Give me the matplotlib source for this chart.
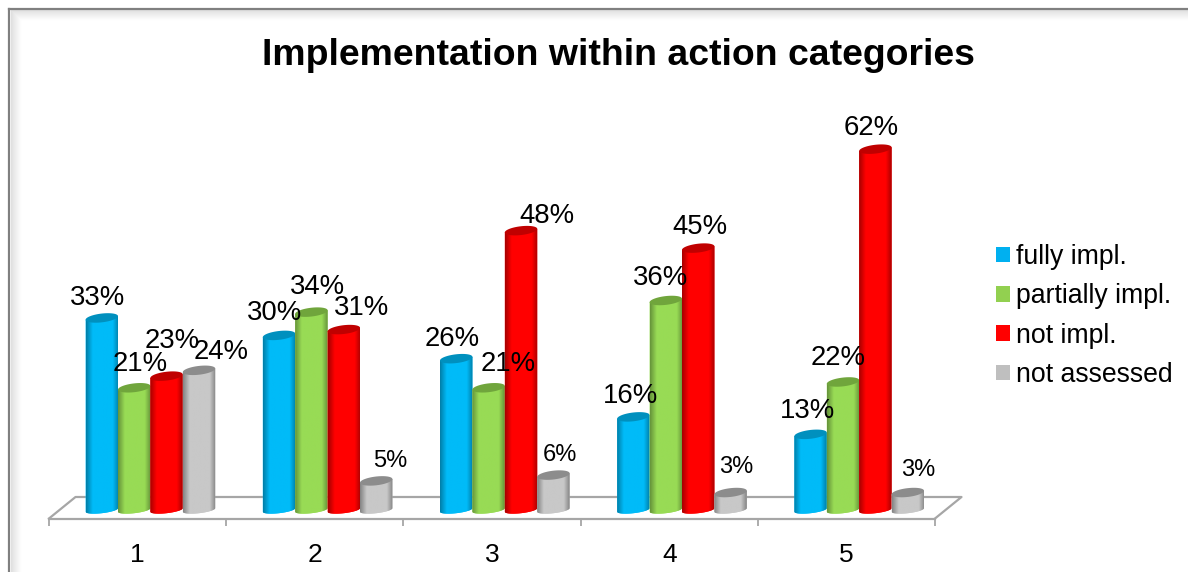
from __future__ import annotations

import matplotlib

matplotlib.use("Agg")
import matplotlib.pyplot as plt
import numpy as np
from matplotlib.colors import LinearSegmentedColormap
from matplotlib.lines import Line2D
from matplotlib.patches import Patch, Polygon

plt.rcParams["font.family"] = ["Liberation Sans", "DejaVu Sans"]

categories = ["1", "2", "3", "4", "5"]
series_names = ["fully impl.", "partially impl.", "not impl.", "not assessed"]
fully_impl = [33, 30, 26, 16, 13]
partially_impl = [21, 34, 21, 36, 22]
not_impl = [23, 31, 48, 45, 62]
not_assessed = [24, 5, 6, 3, 3]

legend_colors = ["#00B0F0", "#92D050", "#FF0000", "#BFBFBF"]
edge_colors = ["#007FA8", "#66943A", "#A80000", "#858585"]
mid_colors = ["#00BBF8", "#98DB55", "#FF0000", "#C8C8C8"]
top_colors = ["#0090BE", "#70A53C", "#C00000", "#8C8C8C"]

# label offsets from the bar top in pixels, one row per series
label_dx = [[-4, -4, -4, -3, -3], [6, 6, 20, -5, -5], [6, 18, 26, 2, -4], [22, 14, 7, 6, 10]]
label_dy = [[20, 22, 20, 21, 23], [24, 25, 24, 22, 24], [35, 22, 15, 21, 21], [18, 20, 20, 26, 23]]

W, H = 1188, 572
PX_X = 177.2  # pixels per category
PX_Y = 5.82  # pixels per percent
FLOOR_COLOR = "#A6A6A6"


def cylinder(ax, x, value, width, j, zorder):
    half_top = 4.4 / PX_Y
    half_base = 3.2 / PX_Y
    tilt = 1.8 / PX_Y
    t = np.linspace(0, 2 * np.pi, 80)
    ex = x + width / 2 * np.cos(t)
    ey = half_top * np.sin(t) + tilt * np.cos(t)

    # body outline: lower half of the base ellipse, then up to the top
    low = np.linspace(np.pi, 2 * np.pi, 40)
    bx = x + width / 2 * np.cos(low)
    by = half_base * np.sin(low) + tilt * np.cos(low)
    body = np.column_stack(
        [np.r_[bx, x + width / 2, x - width / 2], np.r_[by, value + tilt, value - tilt]]
    )
    patch = Polygon(body, closed=True, fc=mid_colors[j], ec="none", zorder=zorder, clip_on=False)
    ax.add_patch(patch)

    cmap = LinearSegmentedColormap.from_list(
        "cyl",
        [(0, edge_colors[j]), (0.2, mid_colors[j]), (0.82, mid_colors[j]), (1, edge_colors[j])],
    )
    img = ax.imshow(
        np.linspace(0, 1, 64)[None, :],
        cmap=cmap,
        aspect="auto",
        extent=(x - width / 2, x + width / 2, -2 * half_base, value + 2 * tilt),
        zorder=zorder + 0.1,
        clip_on=True,
    )
    img.set_clip_path(patch)
    ax.add_patch(
        Polygon(
            np.column_stack([ex, value + ey]),
            closed=True,
            fc=top_colors[j],
            ec="none",
            zorder=zorder + 0.2,
            clip_on=False,
        )
    )


def main() -> None:
    fig = plt.figure(figsize=(W / 100, H / 100), dpi=100, facecolor="white")

    # outer frame with its soft inner shadow
    for i in range(10):
        shade = str(0.88 + 0.012 * i)
        fig.add_artist(Line2D([(11 + i) / W, 1], [1 - (10 + i) / H] * 2, color=shade, lw=0.8))
        fig.add_artist(Line2D([(11 + i) / W] * 2, [0, 1 - (10 + i) / H], color=shade, lw=0.8))
    fig.add_artist(Line2D([9 / W, 1], [1 - 8.5 / H] * 2, color="#808080", lw=1.6))
    fig.add_artist(Line2D([9 / W] * 2, [0, 1 - 8.5 / H], color="#808080", lw=1.6))

    ax = fig.add_axes([49 / W, 1 - 518.5 / H, 886 / W, 418.5 / H])
    ax.patch.set_alpha(0)

    values = [fully_impl, partially_impl, not_impl, not_assessed]
    x = np.arange(1, len(categories) + 1)
    width = 32.4 / PX_X
    shift = 12.8 / PX_X

    for k, xc in enumerate(x):
        for j, series in enumerate(values):
            xb = xc + shift + (j - 1.5) * width
            cylinder(ax, xb, series[k], width, j, 3 + k + j * 0.25)
            ax.annotate(
                f"{series[k]}%",
                xy=(xb, series[k]),
                xytext=(label_dx[j][k], label_dy[j][k]),
                textcoords="offset pixels",
                ha="center",
                va="center",
                fontsize=17 if series[k] < 10 else 19.8,
                color="black",
                zorder=20,
            )

    ax.set_xlim(0.5, len(categories) + 0.5)
    ax.set_ylim(-8.5 / PX_Y, 410 / PX_Y)

    for side in ["top", "left", "right"]:
        ax.spines[side].set_visible(False)
    ax.spines["bottom"].set_color(FLOOR_COLOR)
    ax.spines["bottom"].set_linewidth(1.6)
    ax.set_yticks([])
    ax.set_xticks(x)
    ax.set_xticklabels(categories, fontsize=19)
    ax.tick_params(axis="x", which="major", length=0, pad=17.5)
    ax.set_xticks(np.arange(0.5, len(categories) + 1), minor=True)
    ax.tick_params(axis="x", which="minor", length=5, width=1.3, color=FLOOR_COLOR)

    # floor of the 3d box
    y0, y1 = -8.5 / PX_Y, 13 / PX_Y
    dx = 26.5 / PX_X
    floor_x = [0.5, 0.5 + dx, 5.5 + dx, 5.5]
    floor_y = [y0, y1, y1, y0]
    ax.plot(floor_x, floor_y, color=FLOOR_COLOR, lw=1.6, clip_on=False, zorder=1)

    fig.text(618.5 / W, 1 - 55.5 / H, "Implementation within action categories",
             ha="center", va="center", fontsize=26.9, fontweight="bold")

    handles = [Patch(fc=c, ec="none") for c in legend_colors]
    fig.legend(
        handles,
        series_names,
        loc="center left",
        bbox_to_anchor=(996 / W, 1 - 316 / H),
        frameon=False,
        fontsize=19.2,
        handlelength=0.53,
        handleheight=0.53,
        handletextpad=0.23,
        labelspacing=0.5,
        borderpad=0,
        borderaxespad=0,
    )

    fig.savefig("out.png", dpi=100)
    plt.close(fig)


if __name__ == "__main__":
    main()
